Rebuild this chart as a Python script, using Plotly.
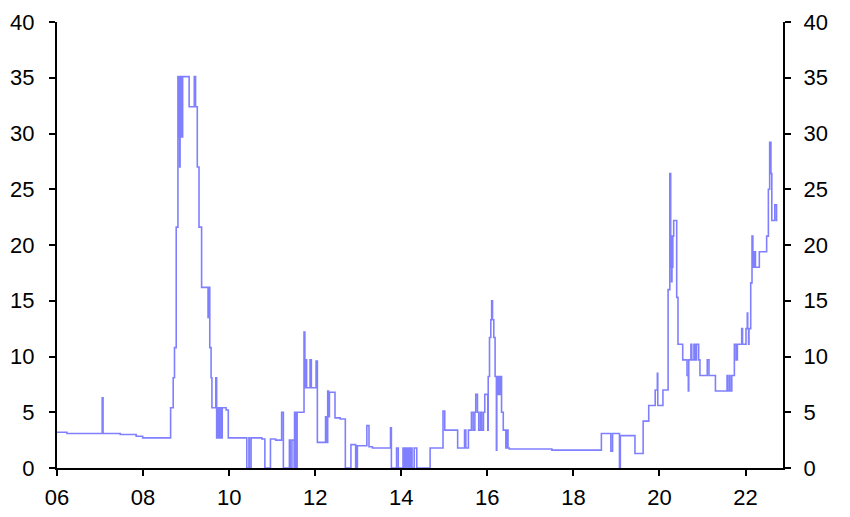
import plotly.graph_objects as go

# Change points (decimal year) and value held until the next change point
year = [
    2006.00, 2006.23, 2007.05, 2007.07, 2007.47, 2007.84, 2007.99,
    2008.64, 2008.70, 2008.73, 2008.77, 2008.81, 2008.83, 2008.84, 2008.85, 2008.86, 2008.87, 2008.88, 2008.89, 2008.90, 2008.91, 2008.92,
    2009.07, 2009.19, 2009.22, 2009.26, 2009.30, 2009.36, 2009.51, 2009.52, 2009.55, 2009.58, 2009.60, 2009.69,
    2009.71, 2009.72, 2009.73, 2009.75, 2009.76, 2009.78, 2009.79, 2009.81, 2009.82, 2009.84, 2009.93, 2009.98,
    2010.41, 2010.46, 2010.47, 2010.51, 2010.76, 2010.83, 2010.96, 2011.08, 2011.22, 2011.26, 2011.40, 2011.42, 2011.46, 2011.51,
    2011.52, 2011.53, 2011.55, 2011.56, 2011.58, 2011.74, 2011.76, 2011.77, 2011.80, 2011.88, 2011.91, 2012.02, 2012.05,
    2012.24, 2012.25, 2012.26, 2012.27, 2012.29, 2012.31, 2012.33, 2012.46, 2012.58, 2012.70, 2012.83,
    2012.94, 2012.96, 2012.97, 2012.98, 2013.20, 2013.25, 2013.33, 2013.75, 2013.77, 2013.89, 2013.93,
    2014.04, 2014.06, 2014.08, 2014.10, 2014.12, 2014.14, 2014.17, 2014.19, 2014.22, 2014.25, 2014.30, 2014.36, 2014.67,
    2014.97, 2015.01, 2015.31, 2015.47, 2015.50, 2015.56, 2015.63, 2015.67, 2015.71, 2015.73, 2015.77, 2015.80, 2015.84, 2015.87, 2015.91, 2015.94,
    2016.01, 2016.02, 2016.05, 2016.08, 2016.10, 2016.12, 2016.15, 2016.18, 2016.21, 2016.22, 2016.24, 2016.27, 2016.29, 2016.31, 2016.33, 2016.37, 2016.43, 2016.46, 2016.48, 2016.51,
    2017.50, 2018.65, 2018.87, 2018.91, 2019.07, 2019.09, 2019.43, 2019.62, 2019.75, 2019.90, 2019.95, 2019.96, 2020.08,
    2020.20, 2020.24, 2020.26, 2020.27, 2020.28, 2020.29, 2020.30, 2020.31, 2020.33, 2020.40, 2020.43, 2020.54, 2020.64,
    2020.67, 2020.68, 2020.73, 2020.75, 2020.80, 2020.83, 2020.86, 2020.91, 2020.94, 2021.11, 2021.15, 2021.30,
    2021.57, 2021.58, 2021.62, 2021.64, 2021.68, 2021.74, 2021.78, 2021.81, 2021.91, 2021.93, 2022.01, 2022.04, 2022.05, 2022.07, 2022.08,
    2022.12, 2022.15, 2022.17, 2022.19, 2022.20, 2022.22, 2022.23, 2022.32, 2022.49, 2022.53, 2022.56, 2022.59, 2022.61, 2022.68, 2022.72, 2022.74,
]
value = [
    3.2, 3.1, 6.3, 3.1, 3.0, 2.85, 2.7,
    5.4, 8.1, 10.8, 21.6, 35.1, 29.7, 35.1, 27.0, 35.1, 29.7, 35.1, 32.4, 35.1, 29.7, 35.1,
    32.4, 35.1, 32.4, 27.0, 21.6, 16.2, 13.5, 16.2, 10.8, 8.1, 5.4, 8.1,
    2.7, 5.4, 2.7, 5.4, 2.7, 5.4, 2.7, 5.4, 2.7, 5.4, 5.2, 2.7,
    0.0, 2.7, 0.0, 2.7, 2.6, 0.0, 2.6, 2.5, 5.0, 0.0, 2.5, 0.0, 2.5, 0.0,
    5.0, 0.0, 5.0, 0.0, 5.0, 12.2, 7.2, 9.7, 7.2, 9.7, 7.2, 9.6, 2.3,
    4.6, 2.3, 4.6, 2.3, 6.9, 4.6, 6.8, 4.5, 4.4, 0.0, 2.1,
    0.0, 2.0, 0.0, 2.0, 3.8, 1.9, 1.8, 3.6, 0.0, 1.8, 0.0,
    1.8, 0.0, 1.8, 0.0, 1.8, 0.0, 1.8, 0.0, 1.8, 0.0, 1.8, 0.0, 1.8,
    5.1, 3.4, 1.8, 3.4, 1.8, 3.4, 5.0, 3.4, 5.0, 6.6, 5.0, 3.4, 5.0, 3.4, 5.0, 6.6,
    3.4, 8.2, 11.7, 13.3, 15.0, 13.3, 11.7, 8.2, 1.6, 8.2, 6.6, 8.2, 6.6, 8.2, 5.0, 3.4, 1.8, 3.4, 1.8, 1.7,
    1.6, 3.1, 1.5, 3.1, 0.0, 2.9, 1.3, 4.2, 5.6, 7.0, 8.5, 5.6, 7.0,
    16.0, 26.4, 18.0, 20.8, 16.7, 20.8, 18.0, 20.8, 22.2, 15.3, 11.1, 9.7, 8.3,
    6.9, 9.7, 11.1, 9.7, 11.1, 9.7, 11.1, 9.7, 8.3, 9.7, 8.3, 6.9,
    8.3, 6.9, 8.3, 6.9, 8.3, 11.1, 9.7, 11.1, 12.5, 11.1, 12.5, 13.9, 12.5, 11.1, 12.5,
    16.6, 20.8, 18.0, 19.4, 18.0, 19.4, 18.0, 19.4, 20.8, 25.0, 29.2, 26.4, 22.2, 23.6, 22.2, 22.2,
]

x_tick_vals = [2006, 2008, 2010, 2012, 2014, 2016, 2018, 2020, 2022]
x_tick_text = ["06", "08", "10", "12", "14", "16", "18", "20", "22"]
y_ticks = [0, 5, 10, 15, 20, 25, 30, 35, 40]

FONT = dict(family="Liberation Sans, Arial, sans-serif", size=22, color="black")

fig = go.Figure()
fig.add_trace(go.Scatter(
    x=year, y=value, mode="lines",
    line=dict(color="#8080ff", width=1.6, shape="hv"),
    showlegend=False, hoverinfo="skip",
))
fig.add_trace(go.Scatter(
    x=[year[0]], y=[None], yaxis="y2", mode="lines",
    showlegend=False, hoverinfo="skip",
))

axis_common = dict(
    showgrid=False, zeroline=False, showline=True, linecolor="black", linewidth=2,
    ticks="outside", ticklen=6, tickwidth=2, tickcolor="black", tickfont=FONT,
    automargin=False,
)

# the page body adds an 8px offset, so the figure is 8px smaller and margins shifted
fig.update_layout(
    width=842, height=509,
    margin=dict(l=49, r=67, t=14, b=49),
    paper_bgcolor="white", plot_bgcolor="white",
    showlegend=False,
    xaxis=dict(range=[2006, 2022.87], tickvals=x_tick_vals, ticktext=x_tick_text,
               ticklabelstandoff=3, **axis_common),
    yaxis=dict(range=[0, 40], tickvals=y_ticks, ticklabelstandoff=10, **axis_common),
    yaxis2=dict(range=[0, 40], tickvals=y_ticks, overlaying="y", side="right",
                ticklabelstandoff=8, **axis_common),
)

fig.write_html("out.html")
